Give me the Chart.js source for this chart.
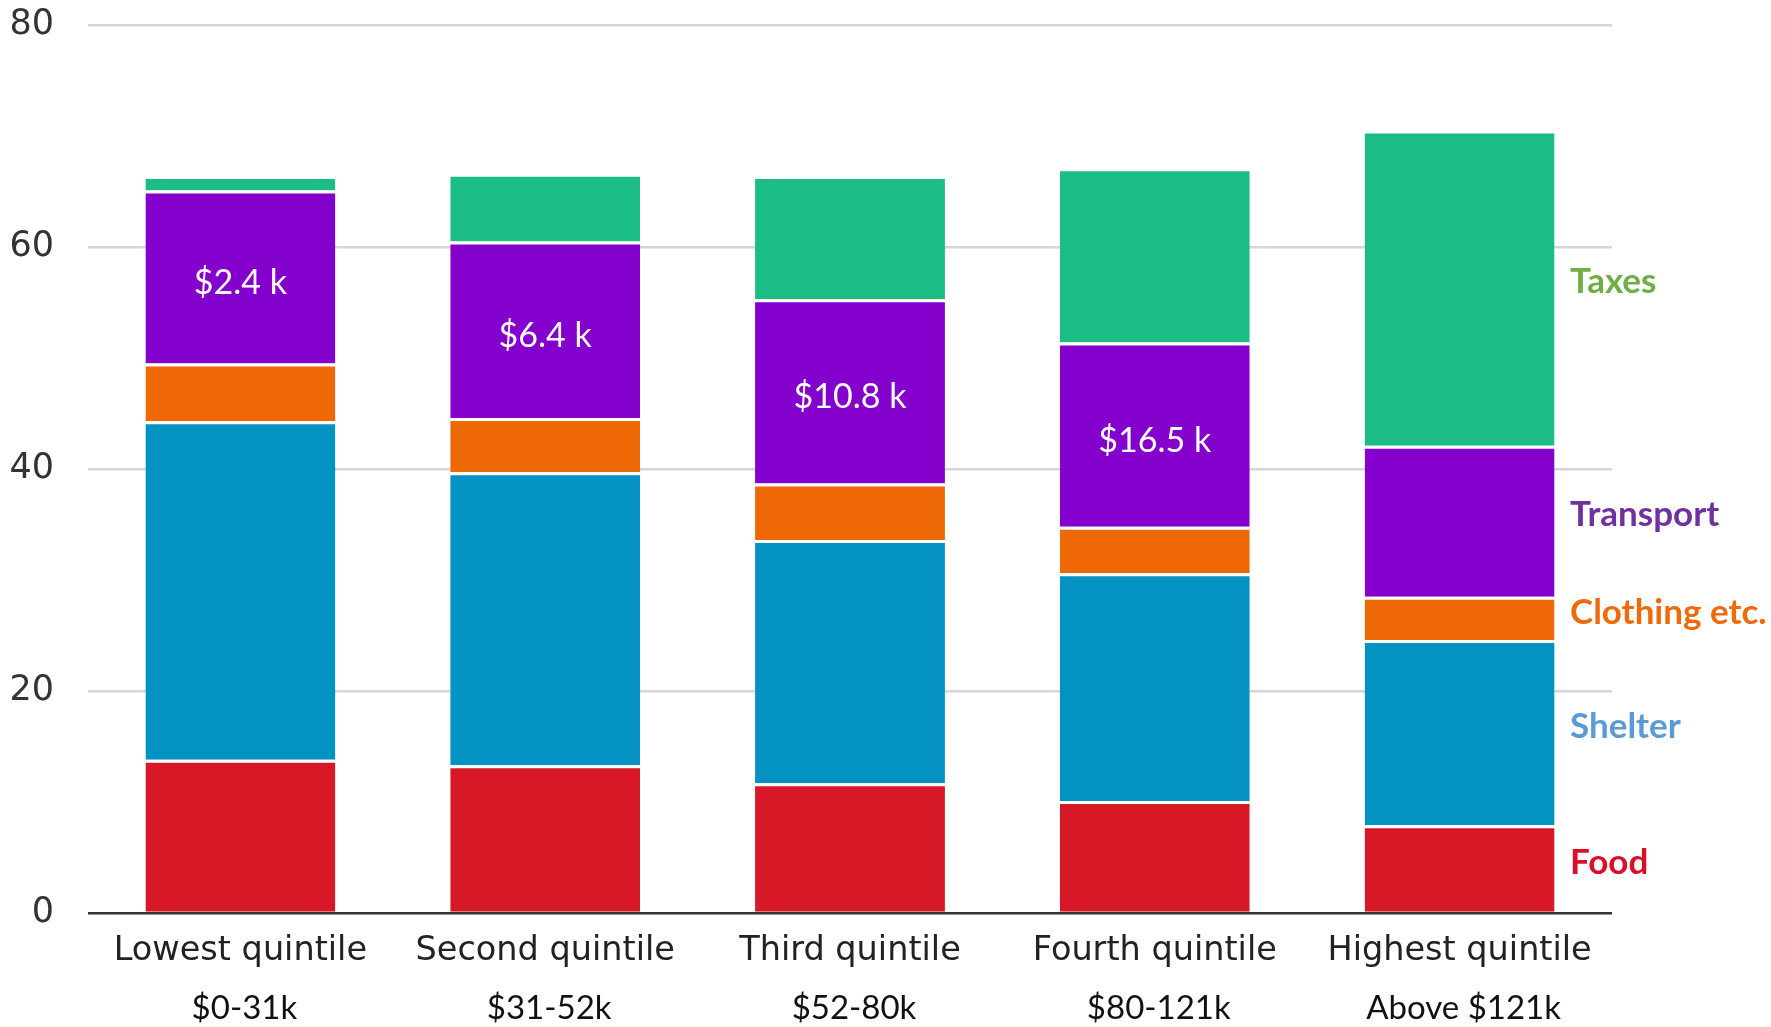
<!DOCTYPE html>
<html>
<head>
<meta charset="utf-8">
<script src="https://cdn.jsdelivr.net/npm/chart.js@4"></script>
<style>
  body { margin: 0; background: #fff; }
  canvas { display: block; }
</style>
</head>
<body>
<canvas id="grafico" width="1771" height="1027"></canvas>
<script>
// Categories and their income ranges (second line under each bar)
const quintiles = ['Lowest quintile', 'Second quintile', 'Third quintile', 'Fourth quintile', 'Highest quintile'];
const incomeRanges = ['$0-31k', '$31-52k', '$52-80k', '$80-121k', 'Above $121k'];

// Stacked series, bottom to top
const food = [13.8, 13.3, 11.7, 10.1, 7.9];
const shelter = [30.5, 26.4, 21.9, 20.5, 16.7];
const clothing = [5.2, 4.9, 5.1, 4.2, 3.9];
const transport = [15.6, 15.9, 16.6, 16.6, 13.6];
const taxes = [1.3, 6.1, 11.1, 15.7, 28.4];

// Text written inside the transport segment
const transportLabels = ['$2.4 k', '$6.4 k', '$10.8 k', '$16.5 k', ''];

// Y axis ticks
const yTicks = [0, 20, 40, 60, 80];

// Colours: bar fill and side label
const colores = {
    Food: { bar: '#D71826', texto: '#D9102A' },
    Shelter: { bar: '#0392C2', texto: '#5B9BD5' },
    'Clothing etc.': { bar: '#EE6906', texto: '#EE6A0A' },
    Transport: { bar: '#8300CD', texto: '#7030A0' },
    Taxes: { bar: '#1BBD84', texto: '#70AD47' }
};

function serie(nombre, valores) {
    return {
        label: nombre,
        data: valores,
        backgroundColor: colores[nombre].bar,
        borderColor: '#ffffff',
        borderWidth: { top: 3, left: 0, right: 0, bottom: 0 },
        barPercentage: 0.623,
        categoryPercentage: 1
    };
}

// Second line of the x labels, in a different font
const rangoIngresos = {
    id: 'rangoIngresos',
    afterDraw(chart) {
        const c = chart.ctx;
        const x = chart.scales.x;
        c.save();
        c.font = '33px Lato';
        c.fillStyle = '#111';
        c.textAlign = 'center';
        c.textBaseline = 'middle';
        incomeRanges.forEach((txt, i) => {
            c.fillText(txt, x.getPixelForValue(i) + 4, 1008);
        });
        c.restore();
    }
};

// White amounts centred in the transport segments
const montosTransporte = {
    id: 'montosTransporte',
    afterDatasetsDraw(chart) {
        const c = chart.ctx;
        const meta = chart.getDatasetMeta(3);
        c.save();
        c.font = '34px Lato';
        c.fillStyle = '#ffffff';
        c.textAlign = 'center';
        c.textBaseline = 'middle';
        meta.data.forEach((bar, i) => {
            if (!transportLabels[i]) return;
            c.fillText(transportLabels[i], bar.x, (bar.y + bar.base) / 2 + 6);
        });
        c.restore();
    }
};

// Series names to the right of the last bar
const nombresSeries = {
    id: 'nombresSeries',
    afterDatasetsDraw(chart) {
        const c = chart.ctx;
        c.save();
        c.font = 'bold 35px Lato';
        c.textAlign = 'left';
        c.textBaseline = 'middle';
        chart.data.datasets.forEach((ds, i) => {
            const meta = chart.getDatasetMeta(i);
            const bar = meta.data[meta.data.length - 1];
            c.fillStyle = colores[ds.label].texto;
            c.fillText(ds.label, 1570, (bar.y + bar.base) / 2 - 6);
        });
        c.restore();
    }
};

const ctx = document.getElementById('grafico').getContext('2d');
const grafico = new Chart(ctx, {
    type: 'bar',
    data: {
        labels: quintiles,
        datasets: [
            serie('Food', food),
            serie('Shelter', shelter),
            serie('Clothing etc.', clothing),
            serie('Transport', transport),
            serie('Taxes', taxes)
        ]
    },
    options: {
        responsive: false,
        animation: false,
        layout: { padding: { top: 25, right: 159, left: 0, bottom: 0 } },
        plugins: {
            legend: { display: false },
            tooltip: { enabled: false }
        },
        scales: {
            x: {
                stacked: true,
                grid: { display: false },
                border: { display: false },
                ticks: {
                    color: '#222',
                    font: { family: 'DejaVu Sans', size: 33.5 },
                    padding: 10,
                    maxRotation: 0
                },
                afterFit: s => { s.height = 114; }
            },
            y: {
                stacked: true,
                min: 0,
                max: 80,
                afterBuildTicks: axis => { axis.ticks = yTicks.map(v => ({ value: v })); },
                grid: {
                    drawTicks: false,
                    color: c => c.tick.value === 0 ? '#333333' : '#d6d6d6',
                    lineWidth: 2.5
                },
                border: { display: false },
                ticks: {
                    color: '#333',
                    font: { family: 'DejaVu Sans', size: 35 },
                    padding: 34
                },
                afterFit: s => {
                    s.width = 88;
                    s.paddingTop = 0;
                    s.paddingBottom = 0;
                }
            }
        }
    },
    plugins: [rangoIngresos, montosTransporte, nombresSeries]
});
</script>
</body>
</html>
